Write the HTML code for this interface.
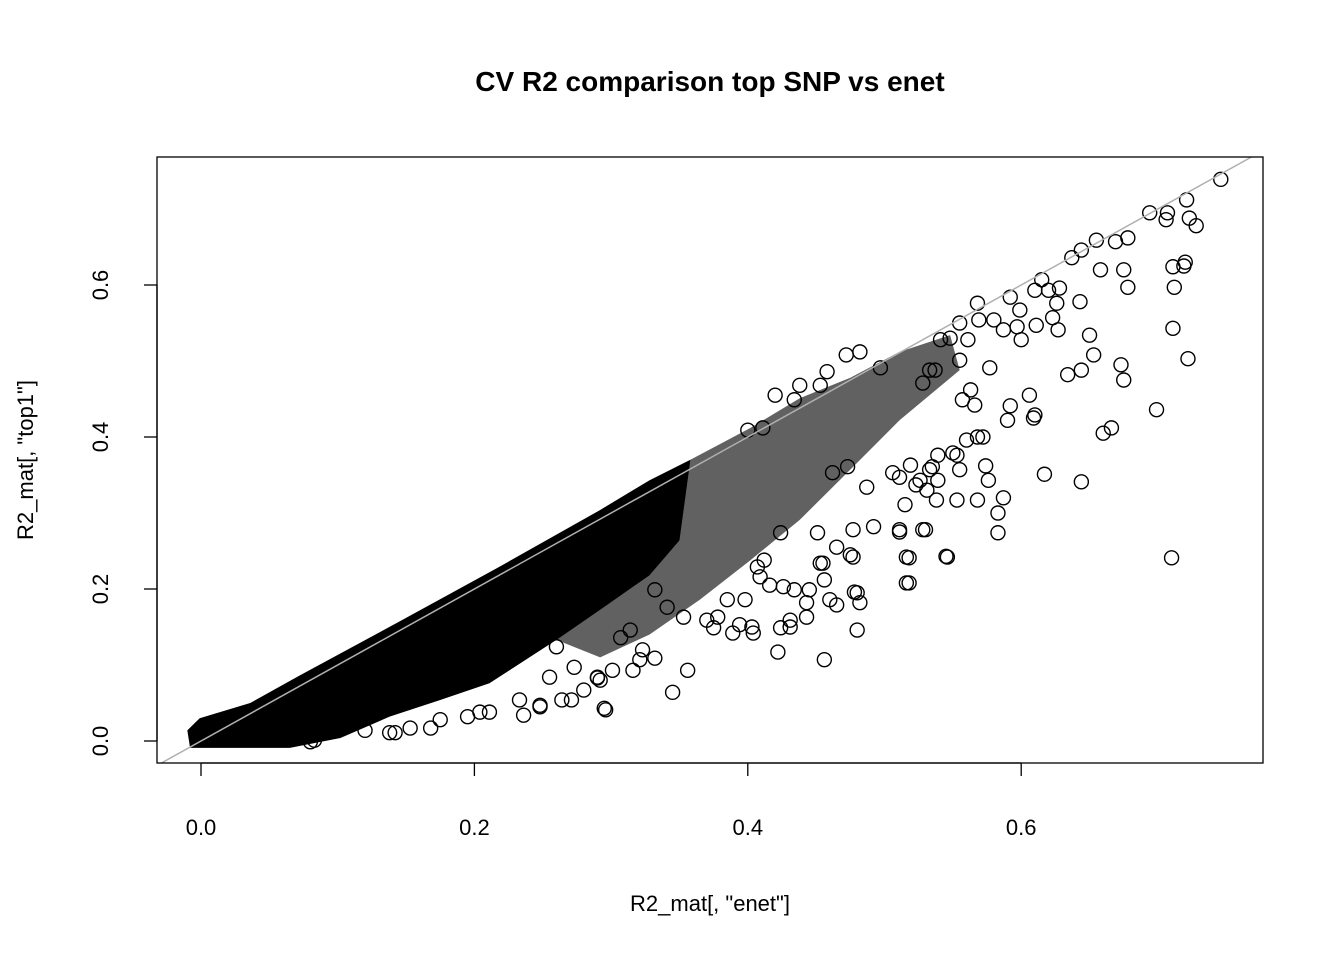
<!DOCTYPE html>
<html><head><meta charset="utf-8"><style>
html,body{margin:0;padding:0;background:#fff;}
svg{display:block;font-family:"Liberation Sans",Arial,sans-serif;}
</style></head><body>
<svg id="chart" width="1344" height="960" viewBox="0 0 1344 960" xmlns="http://www.w3.org/2000/svg">
<defs><clipPath id="pc"><rect x="157" y="157" width="1106" height="606"/></clipPath></defs>
<text x="710" y="91" text-anchor="middle" font-size="28" font-weight="bold">CV R2 comparison top SNP vs enet</text>
<g id="plot" clip-path="url(#pc)"></g>
<rect x="157" y="157" width="1106" height="606" fill="none" stroke="#000" stroke-width="1.3"/>
<g id="axes"></g>
<text x="710" y="911" text-anchor="middle" font-size="22">R2_mat[, "enet"]</text>
<text transform="translate(33,460) rotate(-90)" text-anchor="middle" font-size="22">R2_mat[, "top1"]</text>
</svg>
<script>
const xTicks=[0.0,0.2,0.4,0.6];
const yTicks=[0.0,0.2,0.4,0.6];
const tickLabels=["0.0","0.2","0.4","0.6"];
const coreX=[-0.008,0.065,0.102,0.138,0.175,0.211,0.260,0.297,0.328,0.350,0.358,0.328,0.292,0.219,0.146,0.072,0.036,-0.001,-0.010];
const coreY=[-0.009,-0.009,0.004,0.032,0.054,0.076,0.133,0.179,0.218,0.264,0.370,0.343,0.304,0.230,0.158,0.086,0.050,0.030,0.014];
const haloX=[0.358,0.402,0.438,0.475,0.511,0.548,0.555,0.511,0.475,0.438,0.402,0.365,0.328,0.292,0.260];
const haloY=[0.370,0.412,0.451,0.478,0.512,0.534,0.488,0.422,0.357,0.291,0.238,0.186,0.140,0.110,0.133];
const enet=[0.746,0.721,0.694,0.707,0.706,0.723,0.728,0.678,0.669,0.655,0.644,0.637,0.658,0.675,0.678,0.711,0.720,0.719,0.712,0.711,0.722,0.699,0.710,0.644,0.617,0.673,0.675,0.653,0.650,0.643,0.626,0.628,0.615,0.620,0.610,0.592,0.599,0.623,0.627,0.611,0.597,0.587,0.600,0.634,0.644,0.666,0.660,0.606,0.610,0.609,0.592,0.590,0.577,0.568,0.569,0.580,0.561,0.548,0.555,0.541,0.533,0.528,0.537,0.555,0.563,0.557,0.566,0.572,0.560,0.553,0.574,0.576,0.587,0.583,0.583,0.553,0.539,0.533,0.531,0.511,0.519,0.523,0.515,0.539,0.530,0.511,0.518,0.518,0.545,0.477,0.475,0.482,0.480,0.478,0.456,0.456,0.453,0.460,0.443,0.424,0.422,0.431,0.445,0.434,0.403,0.394,0.356,0.345,0.296,0.332,0.321,0.375,0.378,0.416,0.412,0.398,0.332,0.314,0.307,0.290,0.271,0.248,0.233,0.204,0.168,0.142,0.120,0.083,0.482,0.497,0.472,0.458,0.453,0.438,0.434,0.420,0.400,0.411,
0.080,0.138,0.153,0.175,0.195,0.211,0.236,0.248,0.264,0.280,0.295,0.260,0.255,0.273,0.290,0.301,0.316,0.292,0.323,0.389,0.404,0.431,0.443,0.465,0.480,0.516,0.516,0.546,0.455,0.477,0.492,0.511,0.528,0.451,0.465,0.409,0.426,0.385,0.370,0.353,0.341,0.407,0.424,0.462,0.473,0.487,0.506,0.526,0.535,0.550,0.568,0.555,0.568,0.538];
const top1=[0.739,0.712,0.695,0.695,0.686,0.688,0.678,0.662,0.657,0.659,0.646,0.636,0.620,0.620,0.597,0.624,0.630,0.625,0.597,0.543,0.503,0.436,0.241,0.341,0.351,0.495,0.475,0.508,0.534,0.578,0.576,0.596,0.607,0.593,0.593,0.584,0.567,0.557,0.541,0.547,0.545,0.541,0.528,0.482,0.488,0.412,0.405,0.455,0.429,0.425,0.441,0.422,0.491,0.576,0.554,0.554,0.528,0.530,0.550,0.528,0.488,0.471,0.488,0.501,0.462,0.449,0.442,0.400,0.396,0.376,0.362,0.343,0.320,0.300,0.274,0.317,0.376,0.357,0.330,0.347,0.363,0.337,0.311,0.343,0.278,0.275,0.241,0.208,0.243,0.278,0.245,0.182,0.146,0.196,0.107,0.212,0.234,0.186,0.182,0.149,0.117,0.159,0.199,0.199,0.150,0.153,0.093,0.064,0.041,0.109,0.107,0.149,0.163,0.205,0.238,0.186,0.199,0.146,0.136,0.083,0.054,0.047,0.054,0.038,0.017,0.011,0.014,0.001,0.512,0.491,0.508,0.486,0.468,0.468,0.449,0.455,0.409,0.412,
-0.001,0.011,0.017,0.028,0.032,0.038,0.034,0.045,0.054,0.067,0.043,0.124,0.084,0.097,0.084,0.093,0.093,0.080,0.120,0.142,0.142,0.150,0.163,0.179,0.195,0.208,0.242,0.242,0.234,0.242,0.282,0.278,0.278,0.274,0.255,0.216,0.203,0.186,0.159,0.163,0.176,0.229,0.274,0.353,0.361,0.334,0.353,0.343,0.361,0.379,0.400,0.357,0.317,0.317];

const sx=v=>201+v*1367;
const sy=v=>741-v*760;
const NS="http://www.w3.org/2000/svg";
const plot=document.getElementById('plot');
const axes=document.getElementById('axes');
function mk(tag,attrs,parent){const e=document.createElementNS(NS,tag);for(const k in attrs)e.setAttribute(k,attrs[k]);parent.appendChild(e);return e;}

let hp=haloX.map((x,i)=>sx(x)+','+sy(haloY[i])).join(' ');
const halo=mk('polygon',{points:hp,fill:'#000','fill-opacity':0.62},plot);


let cp=coreX.map((x,i)=>sx(x)+','+sy(coreY[i])).join(' ');
const core=mk('polygon',{points:cp,fill:'#000'},plot);



enet.forEach((x,i)=>{
  const c=mk('circle',{cx:sx(x),cy:sy(top1[i]),r:7,fill:'none',stroke:'#000','stroke-width':1.4},plot);
  
  
});

const ln=mk('line',{x1:sx(-0.05),y1:sy(-0.05),x2:sx(0.9),y2:sy(0.9),stroke:'#b0b0b0','stroke-width':1.5},plot);



const xa=mk('line',{x1:sx(xTicks[0]),y1:763,x2:sx(xTicks[xTicks.length-1]),y2:763,stroke:'#000','stroke-width':1.3},axes);


xTicks.forEach((v,i)=>{
  const t=mk('line',{x1:sx(v),y1:763,x2:sx(v),y2:776,stroke:'#000','stroke-width':1.3},axes);
  
  
  const l=mk('text',{x:sx(v),y:835,'text-anchor':'middle','font-size':22},axes);
  l.textContent=tickLabels[i];
  
  
});
const ya=mk('line',{x1:157,y1:sy(yTicks[0]),x2:157,y2:sy(yTicks[yTicks.length-1]),stroke:'#000','stroke-width':1.3},axes);


yTicks.forEach((v,i)=>{
  const t=mk('line',{x1:144,y1:sy(v),x2:157,y2:sy(v),stroke:'#000','stroke-width':1.3},axes);
  
  
  const l=mk('text',{transform:`translate(108,${sy(v)}) rotate(-90)`,'text-anchor':'middle','font-size':22},axes);
  l.textContent=tickLabels[i];
  
  
});
</script>
</body></html>
